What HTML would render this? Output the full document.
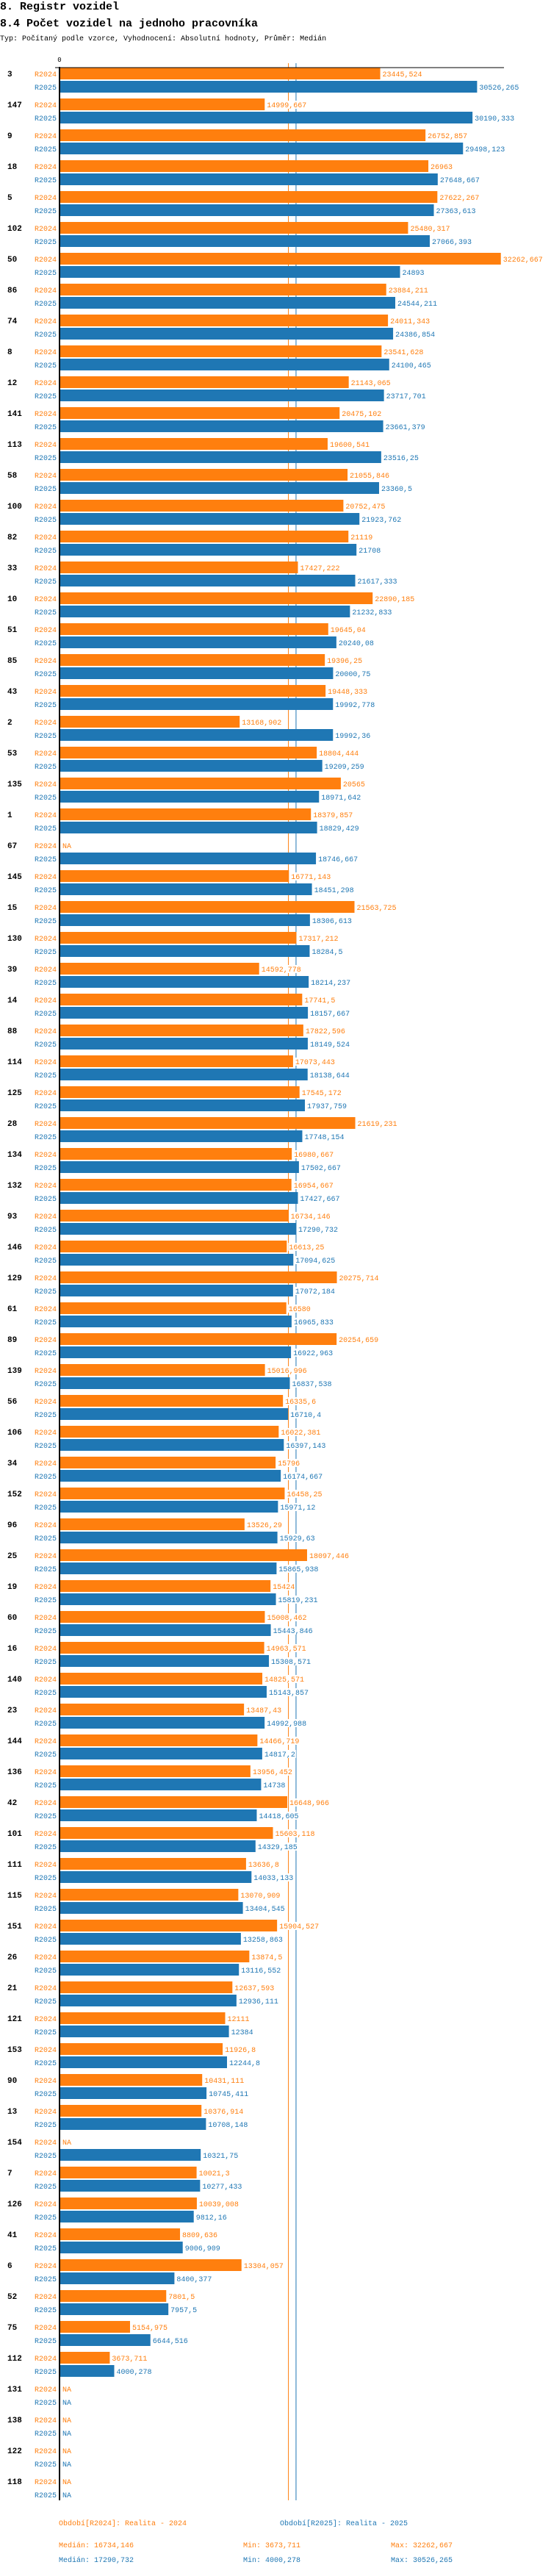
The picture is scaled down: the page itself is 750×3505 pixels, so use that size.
<!DOCTYPE html>
<html><head><meta charset="utf-8">
<style>
html,body{margin:0;padding:0;background:#fff;}
body{width:750px;height:3500px;overflow:hidden;font-family:"Liberation Mono",monospace;}
svg text{font-family:"Liberation Mono",monospace;}
</style></head>
<body>
<svg id="chart" width="750" height="3500" xmlns="http://www.w3.org/2000/svg">
<text x="0" y="13" font-size="15" font-weight="bold" fill="#000">8. Registr vozidel</text>
<text x="0" y="36" font-size="15" font-weight="bold" fill="#000">8.4 Počet vozidel na jednoho pracovníka</text>
<text x="0" y="55" font-size="10" fill="#000">Typ: Počítaný podle vzorce, Vyhodnocení: Absolutní hodnoty, Průměr: Medián</text>
<g id="plot"></g>
</svg>
<script>
const categories = ["3","147","9","18","5","102","50","86","74","8","12","141","113","58","100","82","33","10","51","85","43","2","53","135","1","67","145","15","130","39","14","88","114","125","28","134","132","93","146","129","61","89","139","56","106","34","152","96","25","19","60","16","140","23","144","136","42","101","111","115","151","26","21","121","153","90","13","154","7","126","41","6","52","75","112","131","138","122","118"];
const values2024 = [23445.524,14999.667,26752.857,26963,27622.267,25480.317,32262.667,23884.211,24011.343,23541.628,21143.065,20475.102,19600.541,21055.846,20752.475,21119,17427.222,22890.185,19645.04,19396.25,19448.333,13168.902,18804.444,20565,18379.857,null,16771.143,21563.725,17317.212,14592.778,17741.5,17822.596,17073.443,17545.172,21619.231,16980.667,16954.667,16734.146,16613.25,20275.714,16580,20254.659,15016.996,16335.6,16022.381,15796,16458.25,13526.29,18097.446,15424,15008.462,14963.571,14825.571,13487.43,14466.719,13956.452,16648.966,15603.118,13636.8,13070.909,15904.527,13874.5,12637.593,12111,11926.8,10431.111,10376.914,null,10021.3,10039.008,8809.636,13304.057,7801.5,5154.975,3673.711,null,null,null,null];
const values2025 = [30526.265,30190.333,29498.123,27648.667,27363.613,27066.393,24893,24544.211,24386.854,24100.465,23717.701,23661.379,23516.25,23360.5,21923.762,21708,21617.333,21232.833,20240.08,20000.75,19992.778,19992.36,19209.259,18971.642,18829.429,18746.667,18451.298,18306.613,18284.5,18214.237,18157.667,18149.524,18138.644,17937.759,17748.154,17502.667,17427.667,17290.732,17094.625,17072.184,16965.833,16922.963,16837.538,16710.4,16397.143,16174.667,15971.12,15929.63,15865.938,15819.231,15443.846,15308.571,15143.857,14992.988,14817.2,14738,14418.605,14329.185,14033.133,13404.545,13258.863,13116.552,12936.111,12384,12244.8,10745.411,10708.148,10321.75,10277.433,9812.16,9006.909,8400.377,7957.5,6644.516,4000.278,null,null,null,null];
const seriesNames = ["R2024","R2025"];
const medians = [16734.146, 17290.732];
const mins = [3673.711, 4000.278];
const maxs = [32262.667, 30526.265];
const legendLabels = ["Období[R2024]: Realita - 2024","Období[R2025]: Realita - 2025"];

const colors = ["#ff7f0e","#1f77b4"];
const NS = "http://www.w3.org/2000/svg";
const plot = document.getElementById("plot");
const X0 = 81, K = 0.01862;
const xScale = v => X0 + v * K;
const TOP = 92, PITCH = 42;
const yGroup = i => TOP + i * PITCH;
const fmt = v => String(v).replace('.', ',');
const AXIS_BOTTOM = yGroup(categories.length) - 8;

function mk(tag, attrs, parent) {
  const e = document.createElementNS(NS, tag);
  for (const k in attrs) e.setAttribute(k, attrs[k]);
  (parent || plot).appendChild(e);
  return e;
}

// median lines
medians.forEach((m, s) => {
  const l = mk("line", {x1: xScale(m), x2: xScale(m), y1: 86, y2: AXIS_BOTTOM, stroke: colors[s], "stroke-width": 1});
  
  
});

// zero tick
const zt = mk("text", {x: X0, y: 84, "font-size": 9, "text-anchor": "middle", fill: "#000"});
zt.textContent = "0";



const seriesVals = [values2024, values2025];
categories.forEach((c, i) => {
  const gy = yGroup(i);
  const g = mk("g", {});
  
  
  const ct = mk("text", {x: 10, y: gy + 12, "font-size": 11, "font-weight": "bold", fill: "#000"}, g);
  ct.textContent = c;
  
  
  seriesVals.forEach((vals, s) => {
    const y = gy + s * 18;
    const v = vals[i];
    const st = mk("text", {x: 77, y: y + 12, "font-size": 10, "text-anchor": "end", fill: colors[s]}, g);
    st.textContent = seriesNames[s];
    
    
    let endX = X0 + 1;
    if (v !== null) {
      const r = mk("rect", {x: X0, y: y, width: xScale(v) - X0, height: 16, fill: colors[s]}, g);
      
      
      endX = xScale(v);
    }
    const txt = v === null ? "NA" : fmt(v);
    const bw = txt.length * 6 + 2;
    const bg = mk("rect", {x: endX + 2, y: y + 3, width: bw, height: 11, fill: "#fff"}, g);
    
    
    const vt = mk("text", {x: endX + 3, y: y + 12, "font-size": 10, fill: colors[s]}, g);
    vt.textContent = txt;
    
    
  });
});

// axes
const xa = mk("line", {x1: 75, x2: 686, y1: 92, y2: 92, stroke: "#000", "stroke-width": 1});


const ya = mk("line", {x1: X0, x2: X0, y1: 91, y2: AXIS_BOTTOM, stroke: "#000", "stroke-width": 2});



// legend
const legX = [80, 381];
legendLabels.forEach((t, s) => {
  const lt = mk("text", {x: legX[s], y: 3436, "font-size": 10, fill: colors[s]});
  lt.textContent = t;
  
  
  const yy = 3466 + s * 20;
  const md = mk("text", {x: 80, y: yy, "font-size": 10, fill: colors[s]});
  md.textContent = "Medián: " + fmt(medians[s]);
  
  
  const mn = mk("text", {x: 331, y: yy, "font-size": 10, fill: colors[s]});
  mn.textContent = "Min: " + fmt(mins[s]);
  
  
  const mx = mk("text", {x: 532, y: yy, "font-size": 10, fill: colors[s]});
  mx.textContent = "Max: " + fmt(maxs[s]);
  
  
});
</script>
</body></html>
